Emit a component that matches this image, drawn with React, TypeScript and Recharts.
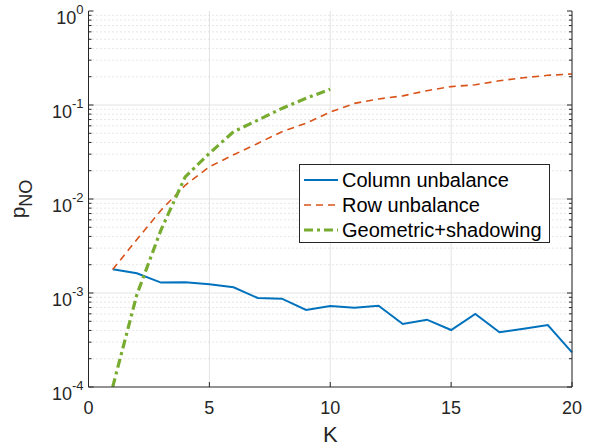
import React from "react";
import {
  LineChart,
  Line,
  XAxis,
  YAxis,
  CartesianGrid,
  ReferenceLine,
  Legend,
} from "recharts";

const kValues = [1, 2, 3, 4, 5, 6, 7, 8, 9, 10, 11, 12, 13, 14, 15, 16, 17, 18, 19, 20];
const columnUnbalance = [
  1.79e-3, 1.62e-3, 1.29e-3, 1.3e-3, 1.24e-3, 1.15e-3, 8.85e-4, 8.7e-4, 6.6e-4, 7.27e-4,
  6.98e-4, 7.33e-4, 4.68e-4, 5.2e-4, 4.04e-4, 5.98e-4, 3.82e-4, 4.17e-4, 4.57e-4, 2.34e-4,
];
const rowUnbalance = [
  1.78e-3, 3.7e-3, 7.6e-3, 1.4e-2, 2.2e-2, 2.95e-2, 3.9e-2, 5.2e-2, 6.4e-2, 8.4e-2,
  1.04e-1, 1.16e-1, 1.25e-1, 1.42e-1, 1.57e-1, 1.64e-1, 1.81e-1, 1.95e-1, 2.07e-1, 2.14e-1,
];
const geometricShadowing = [1.0e-4, 9.6e-4, 4.7e-3, 1.72e-2, 3.06e-2, 5.2e-2, 6.9e-2, 9.2e-2, 1.18e-1, 1.47e-1];

const xTicks = [0, 5, 10, 15, 20];
const decadeTicks = [1e-4, 1e-3, 1e-2, 1e-1, 1];
const minorTicks: number[] = [];
[1e-4, 1e-3, 1e-2, 1e-1].forEach((d) => {
  for (let m = 2; m <= 9; m++) minorTicks.push(+(m * d).toPrecision(3));
});
const allYTicks = [...decadeTicks, ...minorTicks].sort((a, b) => a - b);

const data = kValues.map((k, i) => ({
  k,
  col: columnUnbalance[i],
  row: rowUnbalance[i],
  geo: i < geometricShadowing.length ? geometricShadowing[i] : undefined,
}));

const series = [
  { key: "col", name: "Column unbalance", color: "#0072BD", width: 2, dash: undefined as string | undefined },
  { key: "row", name: "Row unbalance", color: "#D95319", width: 1.6, dash: "7 5" },
  { key: "geo", name: "Geometric+shadowing", color: "#77AC30", width: 3.2, dash: "9 4 3 4" },
];

const FONT = "'Liberation Sans', Arial, Helvetica, sans-serif";
const AX = "#262626";

const isDecade = (v: number) => decadeTicks.some((d) => Math.abs(d - v) / d < 1e-6);

const LeftTick = (props: any) => {
  const { x, y, payload } = props;
  const v = payload.value;
  const dec = isDecade(v);
  const len = dec ? 5 : 3;
  const exp = Math.round(Math.log10(v));
  return (
    <g>
      <line x1={x} y1={y} x2={x + len} y2={y} stroke={AX} strokeWidth={1} />
      {dec && (
        <text x={x - 5} y={y + 13} textAnchor="end" fontFamily={FONT} fontSize={18} fill={AX}>
          10
          <tspan dy={-10} fontSize={13}>
            {String(exp)}
          </tspan>
        </text>
      )}
    </g>
  );
};

const RightTick = (props: any) => {
  const { x, y, payload } = props;
  const dec = isDecade(payload.value);
  const len = dec ? 5 : 3;
  return <line x1={x} y1={y} x2={x - len} y2={y} stroke={AX} strokeWidth={1} />;
};

const BottomTick = (props: any) => {
  const { x, y, payload } = props;
  return (
    <g>
      <line x1={x} y1={y} x2={x} y2={y - 5} stroke={AX} strokeWidth={1} />
      <text x={x} y={y + 27} textAnchor="middle" fontFamily={FONT} fontSize={18} fill={AX}>
        {payload.value}
      </text>
    </g>
  );
};

const TopTick = (props: any) => {
  const { x, y } = props;
  return <line x1={x} y1={y} x2={x} y2={y + 5} stroke={AX} strokeWidth={1} />;
};

const LegendBox = () => (
  <div
    style={{
      width: 249,
      height: 77,
      border: `1px solid ${AX}`,
      background: "#fff",
      boxSizing: "content-box",
    }}
  >
    <svg width={249} height={77} style={{ display: "block" }}>
      {series.map((s, i) => {
        const cy = 15 + i * 25;
        return (
          <g key={s.key}>
            <line
              x1={4}
              y1={cy}
              x2={38}
              y2={cy}
              stroke={s.color}
              strokeWidth={s.width}
              strokeDasharray={s.dash}
            />
            <text x={42} y={cy + 7} fontFamily={FONT} fontSize={20} fill="#000">
              {s.name}
            </text>
          </g>
        );
      })}
    </svg>
  </div>
);

export default function App() {
  return (
    <div style={{ position: "absolute", left: 0, top: 0, background: "#fff" }}>
      <LineChart width={596} height={448} data={data} margin={{ top: 11, right: 0, bottom: 0, left: 0 }}>
        <CartesianGrid horizontal={false} stroke="#e3e3e3" strokeWidth={1} />
        {minorTicks.map((v) => (
          <ReferenceLine key={"m" + v} y={v} yAxisId="left" stroke="#cfcfcf" strokeDasharray="1 3" strokeWidth={1} />
        ))}
        {decadeTicks.slice(1, 4).map((v) => (
          <ReferenceLine key={"d" + v} y={v} yAxisId="left" stroke="#e3e3e3" strokeWidth={1} />
        ))}
        <XAxis
          dataKey="k"
          type="number"
          domain={[0, 20]}
          ticks={xTicks}
          height={61}
          axisLine={{ stroke: AX }}
          tickLine={false}
          tickSize={0}
          tickMargin={0}
          tick={<BottomTick />}
          label={{
            content: ({ viewBox }: any) => (
              <text
                x={viewBox.x + viewBox.width / 2}
                y={442}
                textAnchor="middle"
                fontFamily={FONT}
                fontSize={22}
                fill={AX}
              >
                K
              </text>
            ),
          }}
        />
        <XAxis
          xAxisId="top"
          dataKey="k"
          type="number"
          orientation="top"
          domain={[0, 20]}
          ticks={xTicks}
          height={0}
          axisLine={{ stroke: AX }}
          tickLine={false}
          tickSize={0}
          tickMargin={0}
          tick={<TopTick />}
        />
        <YAxis
          yAxisId="left"
          scale="log"
          type="number"
          domain={[1e-4, 1]}
          ticks={allYTicks}
          interval={0}
          allowDataOverflow
          width={88.5}
          axisLine={{ stroke: AX }}
          tickLine={false}
          tickSize={0}
          tickMargin={0}
          tick={<LeftTick />}
          label={{
            content: ({ viewBox }: any) => {
              const cy = viewBox.y + viewBox.height / 2;
              return (
                <text
                  transform={`translate(25, ${cy}) rotate(-90)`}
                  textAnchor="middle"
                  fontFamily={FONT}
                  fontSize={21}
                  fill={AX}
                >
                  p
                  <tspan dy={7} fontSize={18}>
                    NO
                  </tspan>
                </text>
              );
            },
          }}
        />
        <YAxis
          yAxisId="right"
          orientation="right"
          scale="log"
          type="number"
          domain={[1e-4, 1]}
          ticks={allYTicks}
          interval={0}
          allowDataOverflow
          width={24}
          axisLine={{ stroke: AX }}
          tickLine={false}
          tickSize={0}
          tickMargin={0}
          tick={<RightTick />}
        />
        {series.map((s) => (
          <Line
            key={s.key}
            yAxisId="left"
            dataKey={s.key}
            name={s.name}
            type="linear"
            stroke={s.color}
            strokeWidth={s.width}
            strokeDasharray={s.dash}
            dot={false}
            activeDot={false}
            connectNulls={false}
            isAnimationActive={false}
          />
        ))}
        <Legend
          layout="vertical"
          align="center"
          verticalAlign="middle"
          content={<LegendBox />}
          wrapperStyle={{ position: "absolute", left: 299, top: 164, width: 251, height: 79 }}
        />
      </LineChart>
    </div>
  );
}
